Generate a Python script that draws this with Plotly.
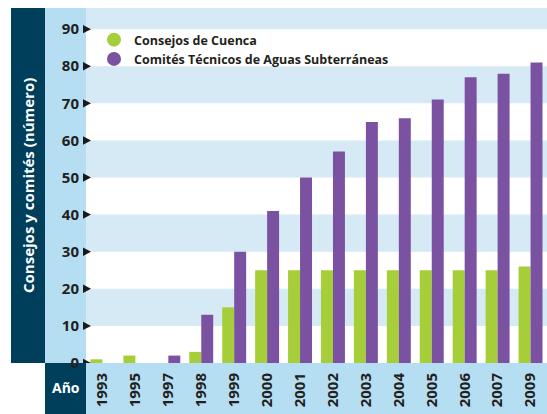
import plotly.graph_objects as go

years = ["1993", "1995", "1997", "1998", "1999", "2000", "2001", "2002",
         "2003", "2004", "2005", "2006", "2007", "2009"]
consejos = [1, 2, 0, 3, 15, 25, 25, 25, 25, 25, 25, 25, 25, 26]
comites = [0, 0, 2, 13, 30, 41, 50, 57, 65, 66, 71, 77, 78, 81]
y_ticks = [0, 10, 20, 30, 40, 50, 60, 70, 80, 90]

GREEN = "#a6ce39"
PURPLE = "#7b52a1"
DARK = "#003f5c"
LIGHT = "#b5def2"
BAND = "#d5eaf5"
TXT = "#231f20"
FONT = "Open Sans"

W, H = 547, 414
ML, MR, MT, MB = 86, 0, 8, 51
PW = W - ML - MR
PH = H - MT - MB
YMAX = 95.7

def px_x(px):
    return (px - ML) / PW

def px_y(py):
    return (H - MB - py) / PH

fig = go.Figure()
fig.add_trace(go.Bar(x=years, y=consejos, name="Consejos de Cuenca",
                     marker=dict(color=GREEN, line=dict(width=0)), showlegend=False))
fig.add_trace(go.Bar(x=years, y=comites, name="Comités Técnicos de Aguas Subterráneas",
                     marker=dict(color=PURPLE, line=dict(width=0)), showlegend=False))
# legend entries with round markers
fig.add_trace(go.Scatter(x=[None], y=[None], mode="markers", name="Consejos de Cuenca",
                         marker=dict(color=GREEN, size=14, symbol="circle")))
fig.add_trace(go.Scatter(x=[None], y=[None], mode="markers",
                         name="Comités Técnicos de Aguas Subterráneas",
                         marker=dict(color=PURPLE, size=14, symbol="circle")))

shapes = []
# horizontal bands
bounds = y_ticks[1:] + [YMAX]
for i in range(0, len(bounds) - 1, 2):
    shapes.append(dict(type="rect", xref="paper", yref="y", x0=0, x1=1,
                       y0=bounds[i], y1=bounds[i + 1], fillcolor=BAND,
                       line=dict(width=0), layer="below"))
# dark panel for axis title
shapes.append(dict(type="rect", xref="paper", yref="paper", x0=px_x(11), x1=px_x(45),
                   y0=0, y1=1, fillcolor=DARK, line=dict(width=0), layer="below"))
# light column for y tick labels
shapes.append(dict(type="rect", xref="paper", yref="paper", x0=px_x(45), x1=0,
                   y0=0, y1=1, fillcolor=LIGHT, line=dict(width=0), layer="below"))
# light row for x tick labels
shapes.append(dict(type="rect", xref="paper", yref="paper", x0=0, x1=1,
                   y0=px_y(H), y1=0, fillcolor=LIGHT, line=dict(width=0), layer="below"))
# dark box for "Año"
shapes.append(dict(type="rect", xref="paper", yref="paper", x0=px_x(45), x1=0,
                   y0=px_y(H), y1=0, fillcolor=DARK, line=dict(width=0), layer="below"))
# tick arrows
for t in y_ticks:
    xa, xb = px_x(83), px_x(91)
    hh = 4.2 / (PH / YMAX)
    shapes.append(dict(type="path", xref="paper", yref="y",
                       path=f"M {xa},{t - hh} L {xb},{t} L {xa},{t + hh} Z",
                       fillcolor="#1a1a1a", line=dict(width=0)))

annotations = [
    dict(text="<b>Consejos y comités (número)</b>", xref="paper", yref="paper",
         x=px_x(28), y=px_y(186), xanchor="center", yanchor="middle",
         textangle=-90, showarrow=False,
         font=dict(family=FONT, size=15, color="white")),
    dict(text="<b>Año</b>", xref="paper", yref="paper", x=px_x(65.5), y=px_y(388),
         xanchor="center", yanchor="middle", showarrow=False,
         font=dict(family=FONT, size=14, color="white")),
]

fig.update_layout(
    width=W, height=H,
    margin=dict(l=ML, r=MR, t=MT, b=MB, autoexpand=False),
    paper_bgcolor="white", plot_bgcolor="white",
    barmode="group", bargap=0.273, bargroupgap=0,
    shapes=shapes, annotations=annotations,
    font=dict(family=FONT, color=TXT),
    legend=dict(x=px_x(94), y=px_y(25), xanchor="left", yanchor="top",
                bgcolor="rgba(0,0,0,0)", font=dict(family=FONT, size=12.5, color=TXT,
                                                    weight="bold"),
                tracegroupgap=0, itemwidth=30),
    xaxis=dict(type="category", tickangle=-90, showgrid=False, zeroline=False,
               showline=False, ticks="", ticklabelstandoff=6, automargin=False,
               tickfont=dict(family=FONT, size=15, color=TXT, weight="bold")),
    yaxis=dict(range=[0, YMAX], tickvals=y_ticks, showgrid=False, zeroline=False,
               showline=False, ticks="", ticklabelstandoff=6, automargin=False,
               tickfont=dict(family=FONT, size=15, color=TXT, weight="bold")),
)

fig.write_html("out.html", config={"displayModeBar": False},
               post_script="document.body.style.margin='0';")
